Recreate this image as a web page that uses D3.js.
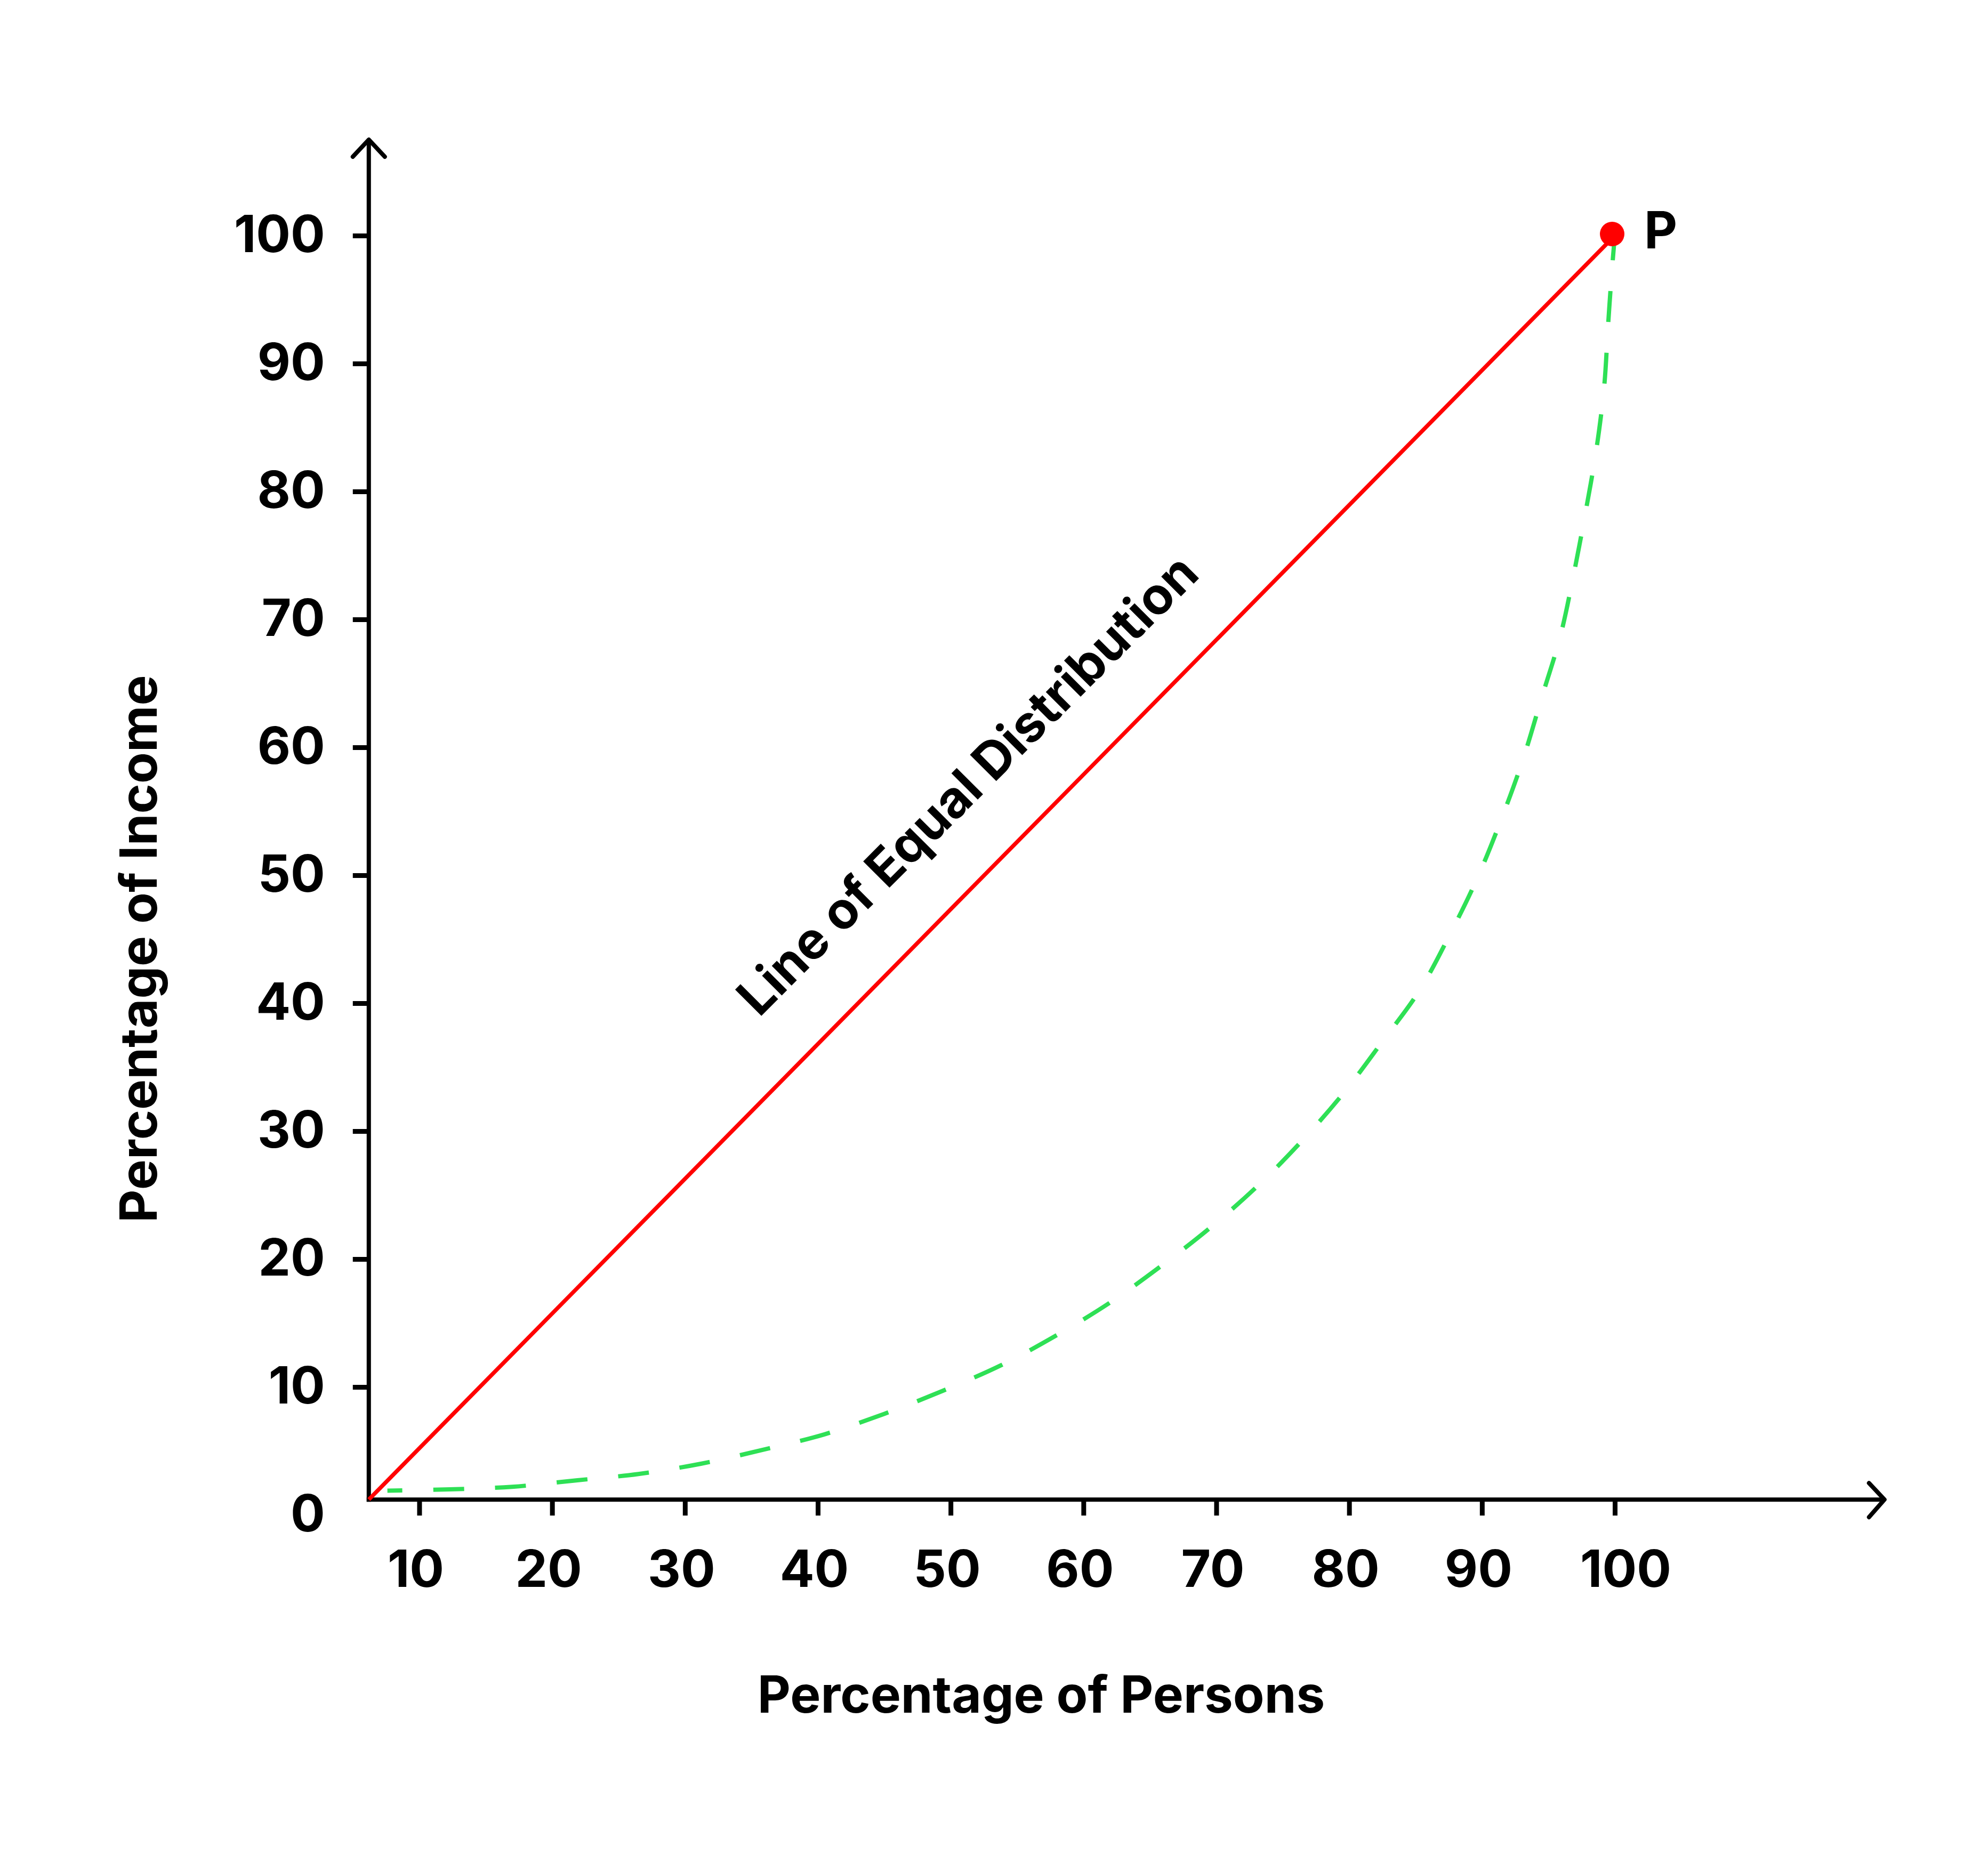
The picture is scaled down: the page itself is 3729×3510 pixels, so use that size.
<!DOCTYPE html>
<html>
<head>
<meta charset="utf-8">
<script src="https://cdn.jsdelivr.net/npm/d3@7/dist/d3.min.js"></script>
<style>
  html, body { margin: 0; padding: 0; background: #ffffff; }
  svg { display: block; }
  text { font-family: Inter, "Noto Sans", sans-serif; font-weight: 700; fill: #000; }
</style>
</head>
<body>
<svg id="chart" width="3729" height="3510"></svg>
<script>
// ---- data ----
const xTicks = [10, 20, 30, 40, 50, 60, 70, 80, 90, 100];
const yTicks = [0, 10, 20, 30, 40, 50, 60, 70, 80, 90, 100];
const lorenzX = [7.6, 12.3, 17.0, 21.8, 26.5, 31.2, 35.9, 40.5, 45.0, 49.4, 53.8, 57.9, 62.0, 65.9, 69.6, 73.2, 76.5, 79.6, 82.5, 85.3, 87.6, 89.7, 91.5, 93.1, 94.5, 95.9, 96.9, 97.8, 98.6, 99.2, 99.5, 99.8, 100];
const lorenzY = [1.9, 2.0, 2.2, 2.7, 3.2, 4.0, 5.1, 6.3, 7.9, 9.7, 11.7, 14.0, 16.6, 19.5, 22.5, 25.8, 29.3, 33.0, 37.0, 41.0, 45.4, 49.9, 54.5, 59.1, 63.9, 68.7, 73.5, 78.4, 83.2, 88.2, 93.1, 97.5, 100];
const equalLine = [[6.2, 1.2], [100, 100]];
const pointP = [100, 100];
const pointLabel = "P";
const equalLabel = "Line of Equal Distribution";
const xTitle = "Percentage of Persons";
const yTitle = "Percentage of Income";
const axisOrigin = [6.2, 1.2];   // where the drawn axes cross (data units)
const axisEnds = [120.3, 107.5]; // arrow tips (x, y in data units)

// ---- scales ----
const svg = d3.select("#chart");
const x = d3.scaleLinear().domain([0, 100]).range([537.3, 3029]);
const y = d3.scaleLinear().domain([0, 100]).range([2842, 442]);
const FS = 96;

const ox = x(axisOrigin[0]), oy = y(axisOrigin[1]);

// ---- axes (ticks & labels via d3-axis) ----
const yAxis = d3.axisLeft(y).tickValues(yTicks).tickSize(30).tickPadding(52).tickFormat(d3.format("d"));
const gy = svg.append("g").attr("transform", `translate(${ox},0)`).call(yAxis);
gy.select(".domain").remove();
gy.selectAll(".tick line").attr("stroke", "#000").attr("stroke-width", 9)
  .filter(d => d === 0).remove();
gy.selectAll(".tick text").attr("font-size", FS).attr("font-family", "Inter").attr("font-weight", 700).attr("fill", "#000");

const xAxis = d3.axisBottom(x).tickValues(xTicks).tickSize(30).tickPadding(66).tickFormat(d3.format("d"));
const gx = svg.append("g").attr("transform", `translate(0,${oy})`).call(xAxis);
gx.select(".domain").remove();
gx.selectAll(".tick line").attr("stroke", "#000").attr("stroke-width", 9);
gx.selectAll(".tick text").attr("font-size", FS).attr("font-family", "Inter").attr("font-weight", 700).attr("fill", "#000")
  .attr("dx", d => d === 100 ? 20 : -7);

// axis lines with open arrow heads
const yTip = y(axisEnds[1]);
const xTip = x(axisEnds[0]);
svg.append("line").attr("x1", ox).attr("y1", oy + 4).attr("x2", ox).attr("y2", yTip)
  .attr("stroke", "#000").attr("stroke-width", 8);
svg.append("line").attr("x1", ox - 4).attr("y1", oy).attr("x2", xTip).attr("y2", oy)
  .attr("stroke", "#000").attr("stroke-width", 8);
svg.append("path")
  .attr("d", `M${ox - 30},${yTip + 32} L${ox},${yTip} L${ox + 30},${yTip + 32}`)
  .attr("fill", "none").attr("stroke", "#000").attr("stroke-width", 8)
  .attr("stroke-linecap", "round").attr("stroke-linejoin", "round");
svg.append("path")
  .attr("d", `M${xTip - 29},${oy - 31} L${xTip},${oy} L${xTip - 29},${oy + 33}`)
  .attr("fill", "none").attr("stroke", "#000").attr("stroke-width", 8)
  .attr("stroke-linecap", "round").attr("stroke-linejoin", "round");

// ---- Lorenz curve (dashed green) ----
const lorenz = lorenzX.map((v, i) => [v, lorenzY[i]]);
const line = d3.line().x(d => x(d[0])).y(d => y(d[1])).curve(d3.curveCatmullRom.alpha(0.5));
svg.append("path").datum(lorenz).attr("d", line)
  .attr("fill", "none").attr("stroke", "#2ee055").attr("stroke-width", 8)
  .attr("stroke-dasharray", "58,58").attr("stroke-dashoffset", 30);

// ---- line of equal distribution ----
svg.append("path").datum(equalLine).attr("d", d3.line().x(d => x(d[0])).y(d => y(d[1])))
  .attr("fill", "none").attr("stroke", "#ff0000").attr("stroke-width", 7.5);

// point P
svg.append("circle").attr("cx", x(pointP[0]) - 5).attr("cy", y(pointP[1]) - 3).attr("r", 23).attr("fill", "#ff0000");
svg.append("text").attr("x", x(pointP[0]) + 55).attr("y", y(pointP[1]) + 24)
  .attr("font-size", FS).text(pointLabel);

// rotated label along the line
svg.append("text")
  .attr("transform", `translate(${x(51.7) + 13},${y(55.4) - 17}) rotate(-45)`)
  .attr("text-anchor", "middle").attr("font-size", FS).text(equalLabel);

// axis titles
svg.append("text").attr("x", 1953).attr("y", 3213).attr("text-anchor", "middle")
  .attr("font-size", FS).text(xTitle);
svg.append("text").attr("transform", `translate(294,1780) rotate(-90)`).attr("text-anchor", "middle")
  .attr("font-size", FS).text(yTitle);
</script>
</body>
</html>
